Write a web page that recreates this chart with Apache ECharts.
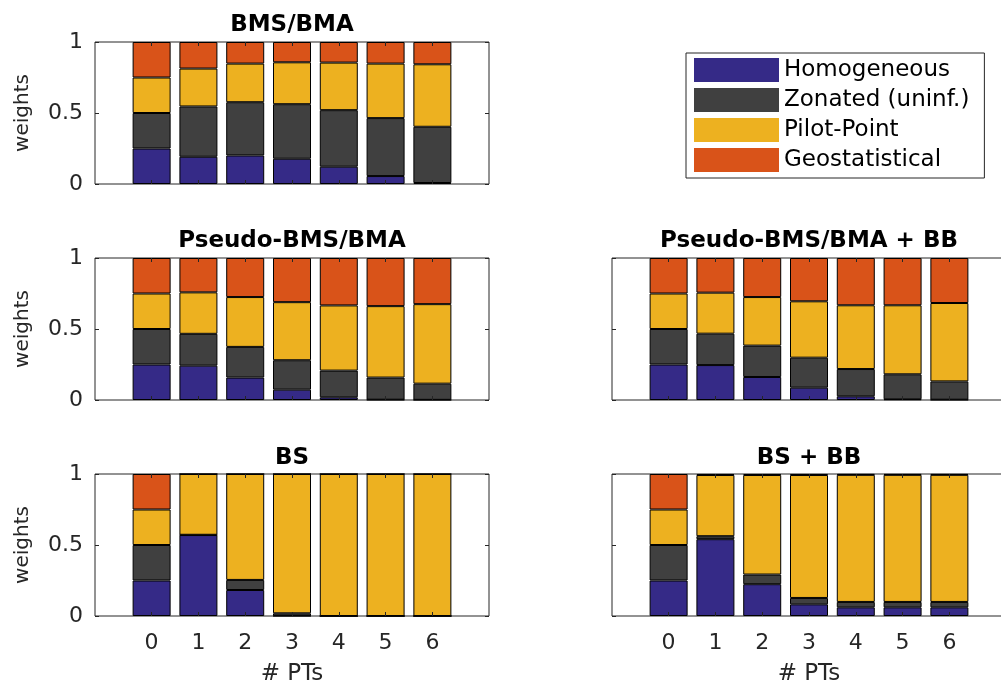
<!DOCTYPE html>
<html>
<head>
<meta charset="utf-8">
<title>Model weights</title>
<script src="https://cdn.jsdelivr.net/npm/echarts@6/dist/echarts.min.js"></script>
<style>
  html, body { margin: 0; padding: 0; background: #fff; }
  #chart { width: 1001px; height: 682px; }
</style>
</head>
<body>
<div id="chart"></div>
<script>
// Number of pilot points on the x axis
const PTS = [0, 1, 2, 3, 4, 5, 6];
const MODELS = ['Homogeneous', 'Zonated (uninf.)', 'Pilot-Point', 'Geostatistical'];
const COLORS = ['#352A87', '#404040', '#EDB120', '#D95319'];
const Y_TICKS = [0, 0.5, 1];

// Posterior model weights per panel, one list per model
const bmsBmaHom = [0.25, 0.192, 0.201, 0.178, 0.122, 0.056, 0.007];
const bmsBmaZon = [0.25, 0.354, 0.375, 0.384, 0.398, 0.408, 0.396];
const bmsBmaPil = [0.25, 0.267, 0.272, 0.295, 0.335, 0.384, 0.440];
const bmsBmaGeo = [0.25, 0.187, 0.152, 0.143, 0.145, 0.152, 0.157];

const pseudoHom = [0.25, 0.242, 0.158, 0.073, 0.019, 0.002, 0.001];
const pseudoZon = [0.25, 0.224, 0.216, 0.207, 0.188, 0.156, 0.114];
const pseudoPil = [0.25, 0.292, 0.351, 0.409, 0.459, 0.503, 0.560];
const pseudoGeo = [0.25, 0.242, 0.275, 0.311, 0.334, 0.339, 0.325];

const pseudoBBHom = [0.25, 0.246, 0.162, 0.087, 0.026, 0.005, 0.002];
const pseudoBBZon = [0.25, 0.221, 0.221, 0.211, 0.192, 0.176, 0.129];
const pseudoBBPil = [0.25, 0.289, 0.342, 0.397, 0.449, 0.486, 0.552];
const pseudoBBGeo = [0.25, 0.244, 0.275, 0.305, 0.333, 0.333, 0.317];

const bsHom = [0.25, 0.570, 0.183, 0.001, 0, 0, 0];
const bsZon = [0.25, 0.002, 0.071, 0.018, 0, 0, 0];
const bsPil = [0.25, 0.428, 0.746, 0.981, 1, 1, 1];
const bsGeo = [0.25, 0, 0, 0, 0, 0, 0];

const bsBBHom = [0.25, 0.541, 0.224, 0.082, 0.061, 0.061, 0.061];
const bsBBZon = [0.25, 0.021, 0.068, 0.045, 0.038, 0.038, 0.038];
const bsBBPil = [0.25, 0.431, 0.701, 0.866, 0.895, 0.895, 0.895];
const bsBBGeo = [0.25, 0.007, 0.007, 0.007, 0.006, 0.006, 0.006];

// Panel layout: left column / right column, three rows
const COL_LEFT = [95, 612];
const ROW_TOP = [42, 258, 474];
const PANEL_W = 394, PANEL_H = 142;

const panels = [
  { title: 'BMS/BMA', col: 0, row: 0, series: [bmsBmaHom, bmsBmaZon, bmsBmaPil, bmsBmaGeo] },
  { title: 'Pseudo-BMS/BMA', col: 0, row: 1, series: [pseudoHom, pseudoZon, pseudoPil, pseudoGeo] },
  { title: 'Pseudo-BMS/BMA + BB', col: 1, row: 1, series: [pseudoBBHom, pseudoBBZon, pseudoBBPil, pseudoBBGeo] },
  { title: 'BS', col: 0, row: 2, series: [bsHom, bsZon, bsPil, bsGeo] },
  { title: 'BS + BB', col: 1, row: 2, series: [bsBBHom, bsBBZon, bsBBPil, bsBBGeo] }
];

const FONT = 'DejaVu Sans';
const AXIS_COLOR = '#262626';
const TITLE_TOP = [14, 230, 447];

const grid = [], xAxis = [], yAxis = [], title = [], series = [];

panels.forEach((p, i) => {
  const left = COL_LEFT[p.col];
  const top = ROW_TOP[p.row];
  const bottomRow = p.row === 2;
  const leftCol = p.col === 0;

  grid.push({
    left: left, top: top, width: PANEL_W, height: PANEL_H,
    outerBoundsMode: 'none',
    show: true, borderColor: AXIS_COLOR, borderWidth: 1, backgroundColor: 'transparent'
  });

  title.push({
    text: p.title,
    left: left + PANEL_W / 2,
    top: TITLE_TOP[p.row],
    textAlign: 'center',
    padding: 0,
    textStyle: { fontFamily: FONT, fontWeight: 'bold', fontSize: 23, color: '#000' }
  });

  const xBase = {
    type: 'value', gridIndex: i, min: -1.21, max: 7.21, z: 5,
    axisLine: { show: false, onZero: false },
    splitLine: { show: false },
    axisTick: { show: true, inside: true, length: 4, customValues: PTS,
                lineStyle: { color: AXIS_COLOR, width: 1 } }
  };
  xAxis.push(Object.assign({}, xBase, {
    position: 'bottom',
    axisLabel: { show: bottomRow, customValues: PTS, margin: 16,
                 fontFamily: FONT, fontSize: 22, color: '#262626' },
    name: bottomRow ? '# PTs' : '',
    nameLocation: 'middle', nameGap: 47,
    nameTextStyle: { fontFamily: FONT, fontSize: 23, color: '#262626' }
  }));
  xAxis.push(Object.assign({}, xBase, {
    position: 'top',
    axisLabel: { show: false }
  }));

  const yBase = {
    type: 'value', gridIndex: i, min: 0, max: 1, interval: 0.5, z: 5,
    axisLine: { show: false, onZero: false },
    splitLine: { show: false },
    axisTick: { show: true, inside: true, length: 4,
                lineStyle: { color: AXIS_COLOR, width: 1 } }
  };
  yAxis.push(Object.assign({}, yBase, {
    position: 'left',
    axisLabel: { show: leftCol, customValues: Y_TICKS, margin: 12,
                 fontFamily: FONT, fontSize: 22, color: '#262626' },
    name: leftCol ? 'weights' : '',
    nameLocation: 'middle', nameGap: 62, nameRotate: 90,
    nameTextStyle: { fontFamily: FONT, fontSize: 20, color: '#262626' }
  }));
  yAxis.push(Object.assign({}, yBase, {
    position: 'right',
    axisLabel: { show: false }
  }));

  p.series.forEach((vals, m) => {
    series.push({
      type: 'bar',
      name: MODELS[m],
      xAxisIndex: 2 * i,
      yAxisIndex: 2 * i,
      stack: 'panel' + i,
      barWidth: 38,
      // weight first so the stack is built on the y (weight) dimension
      data: PTS.map((x, k) => [vals[k], x]),
      encode: { y: 0, x: 1 },
      itemStyle: { color: COLORS[m], borderColor: '#000', borderWidth: 1 },
      emphasis: { disabled: true }
    });
  });
});

const chart = echarts.init(document.getElementById('chart'), null, { renderer: 'canvas' });
chart.setOption({
  animation: false,
  backgroundColor: '#fff',
  title: title,
  grid: grid,
  xAxis: xAxis,
  yAxis: yAxis,
  legend: {
    data: MODELS,
    orient: 'vertical',
    left: 686, top: 53,
    padding: [5, 15, 6, 8],
    itemGap: 6,
    itemWidth: 85, itemHeight: 24,
    icon: 'rect',
    borderColor: AXIS_COLOR, borderWidth: 1,
    itemStyle: { borderWidth: 0 },
    selectedMode: false,
    textStyle: { fontFamily: FONT, fontSize: 23, color: '#000' }
  },
  series: series
});
</script>
</body>
</html>
